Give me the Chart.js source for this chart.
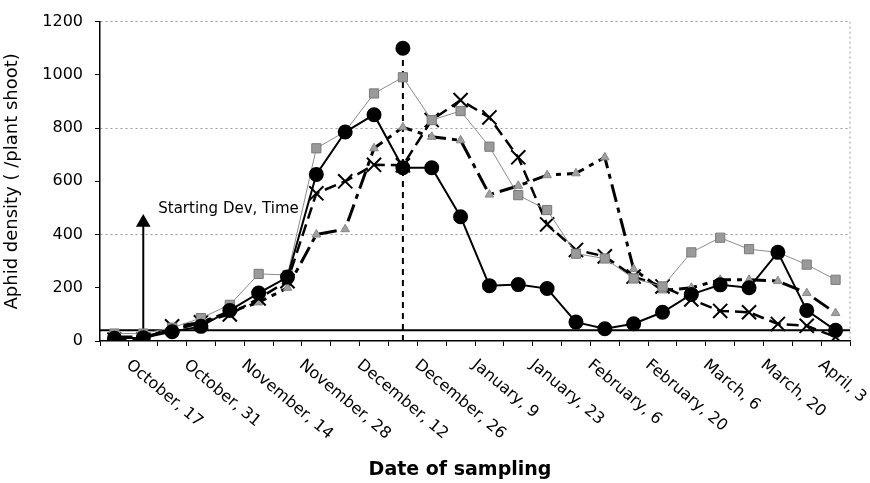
<!DOCTYPE html>
<html>
<head>
<meta charset="utf-8">
<script src="https://cdn.jsdelivr.net/npm/chart.js@4.4.0/dist/chart.umd.min.js"></script>
<style>
  html, body { margin: 0; padding: 0; background: #fff; }
  #wrap { width: 870px; height: 483px; }
</style>
</head>
<body>
<div id="wrap"><canvas id="aphidChart"></canvas></div>
<script>
// weekly sampling dates (every other one is labelled)
const dates = ['October, 10', 'October, 17', 'October, 24', 'October, 31', 'November, 7',
  'November, 14', 'November, 21', 'November, 28', 'December, 5', 'December, 12',
  'December, 19', 'December, 26', 'January, 2', 'January, 9', 'January, 16',
  'January, 23', 'January, 30', 'February, 6', 'February, 13', 'February, 20',
  'February, 27', 'March, 6', 'March, 13', 'March, 20', 'March, 27', 'April, 3'];

// aphid density per plant shoot
const circles = [10, 12, 35, 55, 115, 180, 240, 626, 785, 850, 651, 651, 467, 208, 212, 197, 71, 46, 65, 108, 175, 211, 200, 333, 115, 40];
const squares = [28, 28, 50, 86, 136, 252, 248, 724, 787, 930, 991, 830, 864, 730, 548, 492, 328, 310, 235, 205, 333, 388, 345, 333, 287, 230];
const triangles = [15, 15, 40, 70, 110, 145, 200, 400, 420, 724, 803, 767, 754, 550, 583, 623, 630, 690, 270, 190, 200, 230, 230, 225, 180, 105];
const crosses = [5, 5, 55, 70, 100, 160, 225, 555, 600, 662, 660, 830, 905, 840, 690, 438, 342, 318, 242, 205, 156, 113, 108, 64, 57, 15];

// annotations
const peakLine = [0, 1100];      // dashed vertical at December, 19
const startArrow = [0, 445];     // arrow at October, 17
const threshold = 40;
const yTicks = [0, 200, 400, 600, 800, 1000, 1200];

const FONT = '"DejaVu Sans", "Liberation Sans", sans-serif';

const overlay = {
  id: 'overlay',
  beforeDatasetsDraw(chart) {
    const { ctx, chartArea: a, scales: { y } } = chart;
    ctx.save();
    // right plot border
    ctx.strokeStyle = '#9a9a9a';
    ctx.lineWidth = 1;
    ctx.setLineDash([2, 3]);
    ctx.beginPath();
    ctx.moveTo(a.right, a.top);
    ctx.lineTo(a.right, a.bottom);
    ctx.stroke();
    ctx.setLineDash([]);
    // threshold line
    const ty = y.getPixelForValue(threshold);
    ctx.strokeStyle = '#000';
    ctx.lineWidth = 2;
    ctx.beginPath();
    ctx.moveTo(a.left, ty);
    ctx.lineTo(a.right, ty);
    ctx.stroke();
    ctx.restore();
  },
  afterDraw(chart) {
    const { ctx, chartArea: a, scales: { x, y } } = chart;
    ctx.save();
    ctx.fillStyle = '#000';
    // rotated date labels
    ctx.font = '16px ' + FONT;
    ctx.textAlign = 'left';
    ctx.textBaseline = 'top';
    dates.forEach((d, i) => {
      if (i % 2 !== 1) return;
      ctx.save();
      ctx.translate(x.getPixelForValue(i) - 10, a.bottom + 16);
      ctx.rotate(40 * Math.PI / 180);
      ctx.fillText(d, 0, 0);
      ctx.restore();
    });
    // x title
    ctx.font = 'bold 19px ' + FONT;
    ctx.textAlign = 'center';
    ctx.textBaseline = 'alphabetic';
    ctx.fillText('Date of sampling', 460, 475);
    // note
    ctx.font = '15px ' + FONT;
    ctx.textAlign = 'left';
    ctx.fillText('Starting Dev, Time', x.getPixelForValue(1) + 15, y.getPixelForValue(480));
    ctx.restore();
  }
};

new Chart(document.getElementById('aphidChart'), {
  type: 'line',
  data: {
    labels: dates,
    datasets: [
      {
        data: circles,
        borderColor: '#000', borderWidth: 2,
        pointStyle: 'circle', pointRadius: 6.5,
        pointBackgroundColor: '#000', pointBorderColor: '#000'
      },
      {
        data: squares,
        borderColor: '#8c8c8c', borderWidth: 1,
        pointStyle: 'rect', pointRadius: 6.5,
        pointBackgroundColor: '#9a9a9a', pointBorderColor: '#7a7a7a', pointBorderWidth: 1
      },
      {
        data: crosses,
        borderColor: '#000', borderWidth: 2.5, borderDash: [12, 6],
        pointStyle: 'crossRot', pointRadius: 10,
        pointBorderColor: '#000', pointBorderWidth: 2
      },
      {
        data: triangles,
        borderColor: '#000', borderWidth: 3, borderDash: [18, 6, 5, 6],
        pointStyle: 'triangle', pointRadius: 5,
        pointBackgroundColor: '#a0a0a0', pointBorderColor: '#888', pointBorderWidth: 1
      },
      {
        data: peakLine.map(v => ({ x: dates[10], y: v })),
        borderColor: '#000', borderWidth: 2, borderDash: [6, 5],
        pointStyle: 'circle', pointRadius: [0, 6.5],
        pointBackgroundColor: '#000', pointBorderColor: '#000'
      },
      {
        data: startArrow.map(v => ({ x: dates[1], y: v })),
        borderColor: '#000', borderWidth: 2,
        pointStyle: 'triangle', pointRadius: [0, 6.5],
        pointBackgroundColor: '#000', pointBorderColor: '#000'
      }
    ]
  },
  options: {
    responsive: true,
    maintainAspectRatio: false,
    animation: false,
    layout: { padding: { left: 2, top: 13, right: 20, bottom: 0 } },
    plugins: { legend: { display: false }, tooltip: { enabled: false } },
    scales: {
      x: {
        offset: true,
        ticks: { display: false },
        grid: { offset: true, drawOnChartArea: false, tickLength: 5, tickColor: '#000' },
        border: { color: '#000', width: 1.5 },
        afterFit: s => { s.height = 142; }
      },
      y: {
        min: 0, max: 1200,
        afterBuildTicks: s => { s.ticks = yTicks.map(v => ({ value: v })); },
        ticks: {
          color: '#000', padding: 12, font: { family: FONT, size: 16 },
          callback: v => String(v)
        },
        grid: {
          color: c => (c.tick.value > 0 && c.tick.value % 400 === 0) ? '#9a9a9a' : 'rgba(0,0,0,0)',
          tickLength: 5, tickColor: '#000'
        },
        border: { color: '#000', width: 1.5, dash: [2, 3] },
        title: {
          display: true, text: 'Aphid density ( /plant shoot)', color: '#000',
          font: { family: FONT, size: 18 }, padding: { top: 0, bottom: 0 }
        },
        afterFit: s => { s.width = 98; }
      }
    }
  },
  plugins: [overlay]
});
</script>
</body>
</html>
